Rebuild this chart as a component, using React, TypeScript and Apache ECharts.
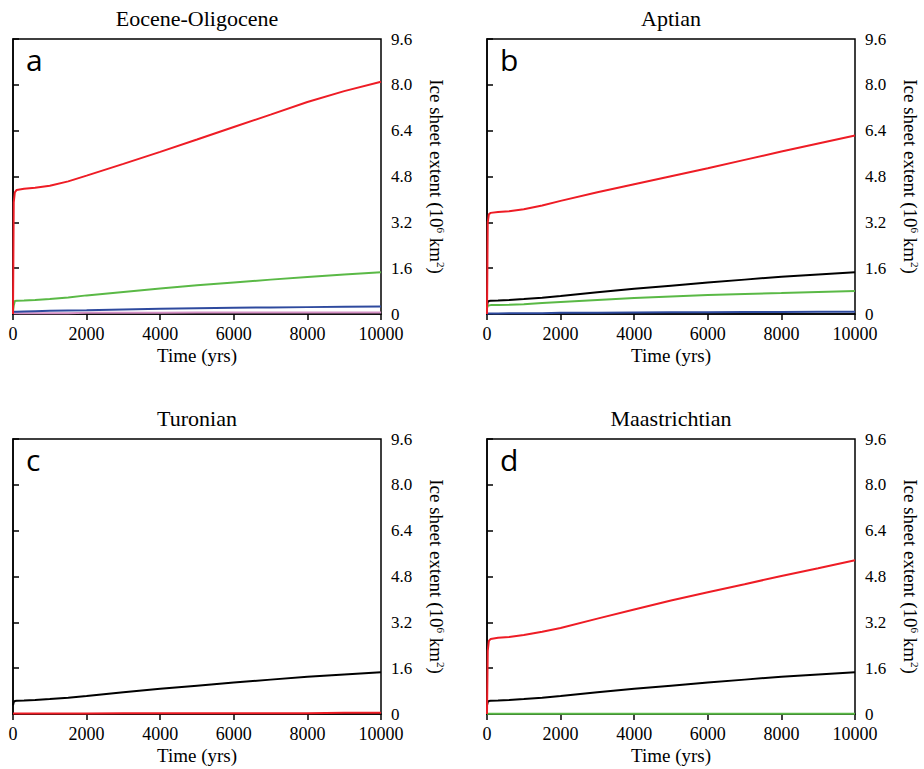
import React, { useEffect, useRef } from "react";
import * as echarts from "echarts";

// Time axis samples (yrs)
const TIME = [0, 20, 50, 100, 300, 600, 1000, 1500, 2000, 3000, 4000, 5000, 6000, 7000, 8000, 9000, 10000];
const X_TICKS = [0, 2000, 4000, 6000, 8000, 10000];
const Y_TICKS = [0, 1.6, 3.2, 4.8, 6.4, 8.0, 9.6];

const PANEL_TITLES = ["Eocene-Oligocene", "Aptian", "Turonian", "Maastrichtian"];
const PANEL_LETTERS = ["a", "b", "c", "d"];

// Panel a (Eocene-Oligocene)
const A_RED = [0, 3.9, 4.25, 4.33, 4.37, 4.41, 4.48, 4.63, 4.83, 5.24, 5.66, 6.09, 6.53, 6.96, 7.4, 7.78, 8.11];
const A_GREEN = [0.1, 0.3, 0.45, 0.46, 0.47, 0.49, 0.52, 0.58, 0.65, 0.77, 0.89, 1.0, 1.1, 1.2, 1.29, 1.38, 1.46];
const A_BLUE = [0.06, 0.08, 0.08, 0.08, 0.09, 0.1, 0.11, 0.12, 0.13, 0.16, 0.18, 0.2, 0.22, 0.23, 0.24, 0.25, 0.26];
const A_PINK = [0.02, 0.03, 0.03, 0.03, 0.03, 0.03, 0.03, 0.03, 0.04, 0.04, 0.04, 0.05, 0.05, 0.05, 0.05, 0.05, 0.05];

// Panel b (Aptian)
const B_RED = [0, 3.2, 3.48, 3.53, 3.56, 3.59, 3.66, 3.79, 3.95, 4.25, 4.53, 4.81, 5.09, 5.38, 5.67, 5.95, 6.23];
const B_BLACK = [0.3, 0.42, 0.45, 0.46, 0.47, 0.49, 0.52, 0.57, 0.63, 0.76, 0.88, 0.99, 1.1, 1.2, 1.3, 1.38, 1.46];
const B_GREEN = [0.2, 0.28, 0.3, 0.31, 0.31, 0.32, 0.34, 0.38, 0.42, 0.49, 0.56, 0.61, 0.66, 0.7, 0.73, 0.77, 0.8];
const B_BLUE = [0.02, 0.02, 0.02, 0.02, 0.02, 0.03, 0.03, 0.03, 0.04, 0.04, 0.05, 0.06, 0.06, 0.07, 0.07, 0.08, 0.08];

// Panel c (Turonian)
const C_BLACK = [0.3, 0.42, 0.45, 0.46, 0.47, 0.49, 0.52, 0.57, 0.63, 0.76, 0.88, 0.99, 1.1, 1.2, 1.3, 1.38, 1.46];
const C_RED = [0.02, 0.02, 0.02, 0.02, 0.02, 0.02, 0.02, 0.02, 0.02, 0.03, 0.03, 0.03, 0.03, 0.03, 0.03, 0.04, 0.04];

// Panel d (Maastrichtian)
const D_RED = [0, 2.2, 2.55, 2.62, 2.66, 2.69, 2.76, 2.87, 3.0, 3.33, 3.65, 3.96, 4.25, 4.53, 4.82, 5.09, 5.37];
const D_BLACK = [0.3, 0.42, 0.45, 0.46, 0.47, 0.49, 0.52, 0.57, 0.63, 0.76, 0.88, 0.99, 1.1, 1.2, 1.3, 1.38, 1.46];
const D_GREEN = [0.01, 0.01, 0.01, 0.01, 0.01, 0.01, 0.01, 0.01, 0.01, 0.01, 0.01, 0.01, 0.01, 0.01, 0.01, 0.01, 0.01];

const RED = "#ee1c25";
const GREEN = "#5ab946";
const BLUE = "#2e4a9e";
const PINK = "#d48fc4";
const BLACK = "#000000";

const PANEL_SERIES: { data: number[]; color: string }[][] = [
  [
    { data: A_PINK, color: PINK },
    { data: A_BLUE, color: BLUE },
    { data: A_GREEN, color: GREEN },
    { data: A_RED, color: RED },
  ],
  [
    { data: B_BLUE, color: BLUE },
    { data: B_GREEN, color: GREEN },
    { data: B_BLACK, color: BLACK },
    { data: B_RED, color: RED },
  ],
  [
    { data: C_RED, color: RED },
    { data: C_BLACK, color: BLACK },
  ],
  [
    { data: D_GREEN, color: GREEN },
    { data: D_BLACK, color: BLACK },
    { data: D_RED, color: RED },
  ],
];

const SERIF = "'Liberation Serif', 'Times New Roman', serif";

export default function App() {
  const ref = useRef<HTMLDivElement>(null);
  useEffect(() => {
    if (!ref.current) return;
    const chart = echarts.init(ref.current, undefined, { renderer: "svg" });
    const lefts = [13, 487, 13, 487];
    const tops = [39, 39, 439, 439];
    const W = 368;
    const H = 275;

    const grids = lefts.map((l, i) => ({
      left: l,
      top: tops[i],
      width: W,
      height: H,
      show: true,
      borderColor: "#000",
      borderWidth: 1.5,
      backgroundColor: "transparent",
    }));

    const xAxes = lefts.map((_, i) => ({
      type: "value",
      gridIndex: i,
      min: X_TICKS[0],
      max: X_TICKS[X_TICKS.length - 1],
      interval: 2000,
      name: "Time (yrs)",
      nameLocation: "middle",
      nameGap: 32,
      nameTextStyle: { fontFamily: SERIF, fontSize: 19, fontWeight: "normal", color: "#000" },
      axisLine: { show: true, lineStyle: { color: "#000", width: 1.5 } },
      axisTick: { show: true, inside: false, length: 6, lineStyle: { color: "#000", width: 1.5 } },
      axisLabel: {
        fontFamily: SERIF,
        fontSize: 18,
        fontWeight: "normal",
        color: "#000",
        margin: 11,
        formatter: (v: number) => String(v),
      },
      splitLine: { show: false },
    }));

    const yAxes = lefts.map((_, i) => ({
      type: "value",
      gridIndex: i,
      position: "right",
      min: Y_TICKS[0],
      max: Y_TICKS[Y_TICKS.length - 1],
      interval: 1.6,
      name: "Ice sheet extent ({t|10}{s|6}{t| km}{s|2}{t|)}",
      nameLocation: "middle",
      nameRotate: -90,
      nameGap: 46,
      nameTextStyle: {
        fontFamily: SERIF,
        fontSize: 19,
        fontWeight: "normal",
        color: "#000",
        rich: {
          t: { fontFamily: SERIF, fontSize: 19, color: "#000" },
          s: { fontFamily: SERIF, fontSize: 11, color: "#000", verticalAlign: "top", padding: [0, 0, 8, 0] },
        },
      },
      axisLine: { show: true, lineStyle: { color: "#000", width: 1.5 } },
      axisTick: { show: true, inside: false, length: 6, lineStyle: { color: "#000", width: 1.5 } },
      axisLabel: {
        fontFamily: SERIF,
        fontSize: 17,
        fontWeight: "normal",
        color: "#000",
        margin: 10,
        formatter: (v: number) => (v === 0 ? "0" : v.toFixed(1)),
      },
      splitLine: { show: false },
    }));

    const series: any[] = [];
    PANEL_SERIES.forEach((list, i) => {
      list.forEach((s) => {
        series.push({
          type: "line",
          xAxisIndex: i,
          yAxisIndex: i,
          data: TIME.map((t, k) => [t, s.data[k]]),
          showSymbol: false,
          symbol: "none",
          smooth: false,
          lineStyle: { color: s.color, width: 2 },
          itemStyle: { color: s.color },
          z: 3,
        });
      });
    });

    const graphics: any[] = [];
    lefts.forEach((l, i) => {
      graphics.push({
        type: "text",
        x: l + W / 2,
        y: tops[i] - 21,
        style: {
          text: PANEL_TITLES[i],
          fontFamily: SERIF,
          fontSize: 22,
          fontWeight: "normal",
          fill: "#000",
          textAlign: "center",
          textVerticalAlign: "middle",
        },
      });
      graphics.push({
        type: "text",
        x: l + 13,
        y: tops[i] + 35,
        style: {
          text: PANEL_LETTERS[i],
          fontFamily: "Open Sans",
          fontSize: 30,
          fill: "#000",
          textAlign: "left",
          textVerticalAlign: "bottom",
        },
      });
    });

    chart.setOption({
      animation: false,
      backgroundColor: "#fff",
      grid: grids,
      xAxis: xAxes,
      yAxis: yAxes,
      series,
      graphic: graphics,
    });
    return () => chart.dispose();
  }, []);

  return (
    <div
      ref={ref}
      style={{ position: "absolute", left: 0, top: 0, width: 924, height: 769 }}
    />
  );
}
